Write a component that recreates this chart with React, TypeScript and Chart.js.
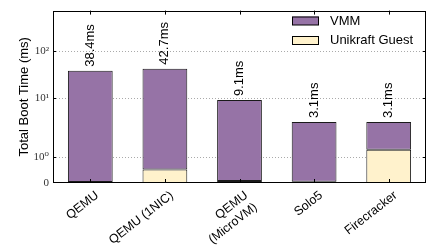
import React, { useEffect, useRef } from 'react';
import { Chart, LinearScale, registerables } from 'chart.js';

Chart.register(...registerables);

const CATEGORIES = [['QEMU'], ['QEMU (1NIC)'], ['QEMU', '(MicroVM)'], ['Solo5'], ['Firecracker']];
const TOTAL_MS = [38.4, 42.7, 9.1, 3.1, 3.1];
const GUEST_MS = [0.04, 0.52, 0.08, 0.05, 1.28];
const VMM_MS = [38.36, 42.18, 9.02, 3.05, 1.82];
const Y_TICKS = [0, 1, 10, 100];
const Y_TICK_LABELS = ['0', '10⁰', '10¹', '10²'];

const LINTHRESH = 2;
const LINSCALE = 1 / (1 - 1 / 10);

function symlog(v: number) {
  const a = Math.abs(v);
  if (a <= LINTHRESH) return v * LINSCALE;
  return Math.sign(v) * LINTHRESH * (LINSCALE + Math.log10(a / LINTHRESH));
}
function invSymlog(t: number) {
  const a = Math.abs(t);
  if (a <= LINTHRESH * LINSCALE) return t / LINSCALE;
  return Math.sign(t) * LINTHRESH * Math.pow(10, a / LINTHRESH - LINSCALE);
}

class SymlogScale extends (LinearScale as any) {
  static id = 'symlog';
  static defaults = { ...(LinearScale as any).defaults };
  buildTicks() {
    return Y_TICKS.filter((v) => v >= this.min && v <= this.max).map((v) => ({ value: v }));
  }
  configure() {
    super.configure();
    this._tMin = symlog(this.min);
    this._tMax = symlog(this.max);
  }
  getPixelForValue(v: number) {
    return this.getPixelForDecimal((symlog(v) - this._tMin) / (this._tMax - this._tMin));
  }
  getValueForPixel(p: number) {
    return invSymlog(this._tMin + this.getDecimalForPixel(p) * (this._tMax - this._tMin));
  }
}
Chart.register(SymlogScale as any);

const FONT = 'Liberation Sans, Arial, sans-serif';

const framePlugin = {
  id: 'frame',
  beforeDatasetsDraw(chart: any) {
    const { ctx, chartArea: a, scales } = chart;
    const y = scales.y;
    ctx.save();
    ctx.strokeStyle = '#aaaaaa';
    ctx.lineWidth = 1;
    ctx.setLineDash([1, 2]);
    y.ticks.forEach((t: any) => {
      if (t.value <= 0) return;
      const py = Math.round(y.getPixelForValue(t.value)) + 0.5;
      ctx.beginPath();
      ctx.moveTo(a.left, py);
      ctx.lineTo(a.right, py);
      ctx.stroke();
    });
    ctx.restore();
  },
  afterDatasetsDraw(chart: any) {
    const { ctx, chartArea: a, scales } = chart;
    const x = scales.x;
    const y = scales.y;
    ctx.save();
    ctx.strokeStyle = '#000';
    ctx.lineWidth = 1;
    ctx.setLineDash([]);
    ctx.strokeRect(Math.round(a.left) + 0.5, Math.round(a.top) + 0.5, Math.round(a.right - a.left) - 1, Math.round(a.bottom - a.top) - 1);
    ctx.beginPath();
    x.ticks.forEach((_t: any, i: number) => {
      const px = Math.round(x.getPixelForTick(i)) + 0.5;
      ctx.moveTo(px, a.top);
      ctx.lineTo(px, a.top + 4);
      ctx.moveTo(px, a.bottom);
      ctx.lineTo(px, a.bottom - 4);
    });
    y.ticks.forEach((t: any) => {
      if (t.value <= 0) return;
      const py = Math.round(y.getPixelForValue(t.value)) + 0.5;
      ctx.moveTo(a.left, py);
      ctx.lineTo(a.left + 3, py);
      ctx.moveTo(a.right, py);
      ctx.lineTo(a.right - 3, py);
    });
    ctx.stroke();
    ctx.fillStyle = '#000';
    ctx.font = `13px ${FONT}`;
    ctx.textAlign = 'left';
    ctx.textBaseline = 'middle';
    TOTAL_MS.forEach((v, i) => {
      const px = x.getPixelForTick(i);
      const py = y.getPixelForValue(v);
      ctx.save();
      ctx.translate(px, py - 4);
      ctx.rotate(-Math.PI / 2);
      ctx.fillText(`${v.toFixed(1)}ms`, 0, 0);
      ctx.restore();
    });
    ctx.restore();
  },
  afterDraw(chart: any) {
    const { ctx } = chart;
    const ds = chart.data.datasets.slice().reverse();
    ctx.save();
    ctx.font = `13px ${FONT}`;
    ctx.textBaseline = 'middle';
    ctx.textAlign = 'left';
    ds.forEach((d: any, i: number) => {
      const by = 16.5 + i * 19.5;
      ctx.fillStyle = d.backgroundColor;
      ctx.fillRect(292, by, 27, 8.5);
      ctx.strokeStyle = '#000';
      ctx.lineWidth = 1;
      ctx.strokeRect(292.5, by + 0.5, 26, 8);
      ctx.fillStyle = '#000';
      ctx.fillText(d.label, 330, by + 4.5);
    });
    ctx.restore();
  },
};

export default function App() {
  const ref = useRef<HTMLCanvasElement>(null);
  useEffect(() => {
    document.body.style.margin = '0';
    Chart.defaults.font.family = FONT;
    const chart = new Chart(ref.current!, {
      type: 'bar',
      data: {
        labels: CATEGORIES as any,
        datasets: [
          {
            label: 'Unikraft Guest',
            data: GUEST_MS,
            backgroundColor: '#fff2cc',
            borderColor: '#1a1a1a',
            borderWidth: 1,
            borderSkipped: false,
            categoryPercentage: 1,
            barPercentage: 0.6,
          },
          {
            label: 'VMM',
            data: VMM_MS,
            backgroundColor: '#9673a6',
            borderColor: '#1a1a1a',
            borderWidth: 1,
            borderSkipped: false,
            categoryPercentage: 1,
            barPercentage: 0.6,
          },
        ],
      },
      options: {
        animation: false,
        responsive: false,
        devicePixelRatio: 1,
        layout: { padding: { top: 3, right: 3, left: 0, bottom: 0 } },
        plugins: { legend: { display: false }, tooltip: { enabled: false } },
        scales: {
          x: {
            stacked: true,
            grid: { display: false, drawTicks: false },
            border: { display: false },
            ticks: {
              maxRotation: 38,
              minRotation: 38,
              autoSkip: false,
              padding: 5,
              labelOffset: 7,
              color: '#000',
              font: { size: 12.5, family: FONT },
            },
            afterFit: (s: any) => {
              s.height = 69;
            },
          },
          y: {
            type: 'symlog' as any,
            stacked: true,
            min: 0,
            max: 740,
            grid: { display: false, drawTicks: false },
            border: { display: false },
            ticks: {
              padding: 4,
              color: '#333',
              font: { size: 11, family: 'Liberation Serif, DejaVu Serif, serif' },
              callback: (v: any) => {
                const i = Y_TICKS.indexOf(Number(v));
                return i >= 0 ? Y_TICK_LABELS[i] : '';
              },
            },
            title: {
              display: true,
              text: 'Total Boot Time (ms)',
              color: '#000',
              font: { size: 13, family: FONT },
              padding: { top: 17, bottom: 0 },
            },
            afterFit: (s: any) => {
              s.width = 53;
            },
          },
        } as any,
      },
      plugins: [framePlugin],
    });
    return () => chart.destroy();
  }, []);
  return (
    <div style={{ position: 'absolute', left: 0, top: 0, width: 429, height: 252 }}>
      <canvas ref={ref} width={429} height={252} style={{ display: 'block' }} />
    </div>
  );
}
